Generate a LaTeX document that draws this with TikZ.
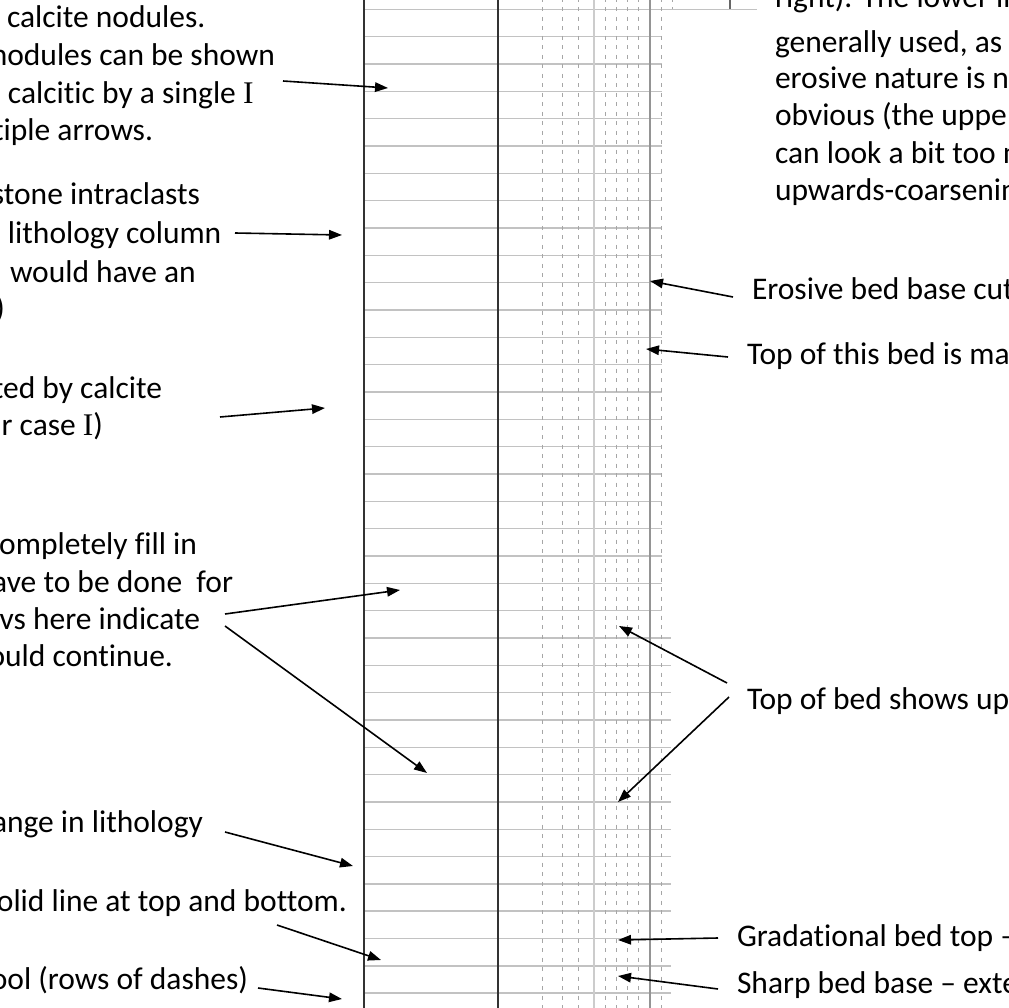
\documentclass[tikz,border=0pt]{standalone}
\usepackage{fontspec}
\setmainfont{Carlito}[Ligatures={NoCommon}]
\newfontfamily\serifI{Liberation Serif}
\usetikzlibrary{arrows.meta}
\tikzset{
  txt/.style={inner sep=0pt, outer sep=0pt, font=\fontsize{31.5}{38}\selectfont},
  arr/.style={line width=1.6pt, -{Triangle[length=13pt,width=9.5pt]}},
  hline/.style={line width=1.4pt, color=black!24},
  darkv/.style={line width=2pt, color=black!80},
  dashv/.style={line width=0.9pt, color=black!35, dash pattern=on 4pt off 5.5pt},
  lightv/.style={line width=1.3pt, color=black!20},
  midv/.style={line width=1.1pt, color=black!42},
}
\begin{document}
\begin{tikzpicture}[x=1pt,y=-1pt]
\useasboundingbox (0,0) rectangle (1009,1008);
\clip (0,0) rectangle (1009,1008);
\fill[white] (0,0) rectangle (1009,1008);
% ---- grid ----
\foreach \k in {1,...,22} {\draw[hline] (364,{9.3+27.33*\k}) -- (662,{9.3+27.33*\k});}
\foreach \k in {23,...,36} {\draw[hline] (364,{9.3+27.33*\k}) -- (671,{9.3+27.33*\k});}
\draw[hline] (364,9.3) -- (757,9.3);
\foreach \xx in {542.7,562.7,578.7,605.3,616.7,627.3,638.7,661.3} {\draw[dashv] (\xx,-2) -- (\xx,1010);}
\draw[dashv] (672,-2) -- (672,9);
\draw[lightv] (594,0) -- (594,1008);
\draw[midv] (650,0) -- (650,1008);
\draw[line width=1.1pt, color=black!60] (730,0) -- (730,9.3);
\draw[darkv] (364.3,0) -- (364.3,1008);
\draw[darkv] (498.3,0) -- (498.3,1008);
% ---- left texts ----
\node[txt, anchor=base west] (l1a) at (7,28) {calcite nodules.};
\node[txt, anchor=base east] (l1b) at (275,66) {nodules can be shown};
\node[txt, anchor=base west] (l1c) at (8,104) {calcitic by a single {\serifI I}};
\node[txt, anchor=base east] (l1d) at (153,141) {tiple arrows.};
\node[txt, anchor=base east] (l2a) at (200,205) {stone intraclasts};
\node[txt, anchor=base west] (l2b) at (8,244) {lithology column};
\node[txt, anchor=base west] (l2c) at (10,283) {would have an};
\node[txt, anchor=base east] (l2d) at (5,318) {)};
\node[txt, anchor=base east] (l3a) at (162,398) {ted by calcite};
\node[txt, anchor=base east] (l3b) at (103,435) {r case {\serifI I})};
\node[txt, anchor=base east] (l4a) at (197,554) {ompletely fill in};
\node[txt, anchor=base east] (l4b) at (233,592) {ave to be done\ \ for};
\node[txt, anchor=base east] (l4c) at (200,629) {vs here indicate};
\node[txt, anchor=base east] (l4d) at (173,666) {ould continue.};
\node[txt, anchor=base east] (l5a) at (203,832) {ange in lithology};
\node[txt, anchor=base east] (l5b) at (347,911) {olid line at top and bottom.};
\node[txt, anchor=base east] (l5c) at (248,989) {ool (rows of dashes)};
% ---- right texts ----
\node[txt, anchor=base west] (r1a) at (775,8) {right). The lower in};
\node[txt, anchor=base west] (r1b) at (775,53) {generally used, as};
\node[txt, anchor=base west] (r1c) at (775,89) {erosive nature is n};
\node[txt, anchor=base west] (r1d) at (775,126) {obvious (the uppe};
\node[txt, anchor=base west] (r1e) at (775,164) {can look a bit too m};
\node[txt, anchor=base west] (r1f) at (775,201) {upwards-coarsenin};
\node[txt, anchor=base west] (r2) at (752,299) {Erosive bed base cut};
\node[txt, anchor=base west] (r3) at (747,364) {Top of this bed is ma};
\node[txt, anchor=base west] (r4) at (747,709) {Top of bed shows up};
\node[txt, anchor=base west] (r5) at (737,946) {Gradational bed top –};
\node[txt, anchor=base west] (r6) at (737,993) {Sharp bed base – exte};
% ---- arrow ends ----
\coordinate (s1) at (283,81);  \coordinate (t1) at (388,88);
\coordinate (s2) at (235,233); \coordinate (t2) at (342,235);
\coordinate (s3) at (220,417); \coordinate (t3) at (325,408);
\coordinate (s4) at (225,614); \coordinate (t4) at (400,590);
\coordinate (s5) at (225,626); \coordinate (t5) at (427,773);
\coordinate (s6) at (225,832); \coordinate (t6) at (353,866);
\coordinate (s7) at (277,925); \coordinate (t7) at (381,960);
\coordinate (s8) at (258,988); \coordinate (t8) at (342,999);
\coordinate (u1) at (733,297); \coordinate (v1) at (650,281);
\coordinate (u2) at (728,357); \coordinate (v2) at (646,349);
\coordinate (u3) at (727,683); \coordinate (v3) at (619,626);
\coordinate (u4) at (729,697); \coordinate (v4) at (618,802);
\coordinate (u5) at (718,938); \coordinate (v5) at (618,940);
\coordinate (u6) at (718,989); \coordinate (v6) at (618,976);
\foreach \i in {1,...,8} {\draw[arr] (s\i) -- (t\i);}
\foreach \i in {1,...,6} {\draw[arr] (u\i) -- (v\i);}
\end{tikzpicture}
\end{document}
